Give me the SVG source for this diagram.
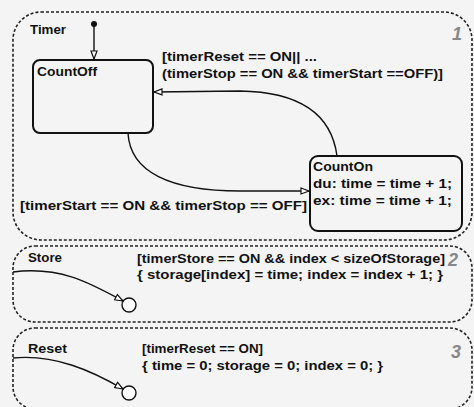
<svg xmlns="http://www.w3.org/2000/svg" width="474" height="407" viewBox="0 0 474 407">
<style>
.region{fill:none;stroke:#222;stroke-width:1.6;stroke-dasharray:3 2}
.state{fill:none;stroke:#111;stroke-width:2}
.t{font-family:"Liberation Sans",Arial,sans-serif;font-weight:bold;font-size:13px;fill:#111}
.num{font-family:"Liberation Sans",Arial,sans-serif;font-weight:bold;font-style:italic;font-size:18px;fill:#888}
.conn{fill:none;stroke:#111;stroke-width:1.4}
.junc{fill:#fff;stroke:#111;stroke-width:1.4}
</style>
<defs>
<marker id="arr" viewBox="0 0 10 8" refX="9" refY="4" markerWidth="10" markerHeight="8" markerUnits="userSpaceOnUse" orient="auto">
<path d="M1,1 L9,4 L1,7 z" fill="#fff" stroke="#111" stroke-width="1.2"/>
</marker>
</defs>
<rect width="474" height="407" fill="#f4f4f4"/>
<g id="Timer">
<rect class="region" x="13" y="12" width="459" height="228" rx="28"/>
<text class="t" x="30" y="34" textLength="36" lengthAdjust="spacingAndGlyphs">Timer</text>
<text class="num" x="452" y="40">1</text>
</g>
<g id="CountOff">
<rect class="state" x="33" y="60" width="120" height="73" rx="7"/>
<text class="t" x="37" y="76" textLength="60" lengthAdjust="spacingAndGlyphs">CountOff</text>
</g>
<g id="CountOn">
<rect class="state" x="310" y="156" width="152" height="75" rx="8"/>
<text class="t" x="313" y="171" textLength="60" lengthAdjust="spacingAndGlyphs">CountOn</text>
<text class="t" x="313" y="188" textLength="139" lengthAdjust="spacingAndGlyphs">du: time = time + 1;</text>
<text class="t" x="313" y="205" textLength="139" lengthAdjust="spacingAndGlyphs">ex: time = time + 1;</text>
</g>
<g id="Store">
<rect class="region" x="13" y="246" width="459" height="76" rx="22"/>
<text class="t" x="28" y="262" textLength="34" lengthAdjust="spacingAndGlyphs">Store</text>
<text class="num" x="448" y="266" font-style="normal">2</text>
<circle id="StoreJunction" class="junc" cx="129" cy="305" r="7"/>
</g>
<g id="Reset">
<rect class="region" x="13" y="328" width="459" height="81" rx="22"/>
<text class="t" x="28" y="353" textLength="39" lengthAdjust="spacingAndGlyphs">Reset</text>
<text class="num" x="451" y="358">3</text>
<circle id="ResetJunction" class="junc" cx="129" cy="393" r="7"/>
</g>
<g id="connectors">
<circle cx="94" cy="24" r="3" fill="#111"/>
<path class="conn" d="M94,24 L94,59" marker-end="url(#arr)"/>
<path class="conn" d="M337,156 C332,118 305,92 240,91 L154,92" marker-end="url(#arr)"/>
<path class="conn" d="M128,133 C130,172 170,191 240,191 L309,191" marker-end="url(#arr)"/>
<path class="conn" d="M13,272 C60,266 90,283 123,301" marker-end="url(#arr)"/>
<path class="conn" d="M13,358 C55,354 92,371 123,389" marker-end="url(#arr)"/>
<text class="t" x="162" y="61" textLength="155" lengthAdjust="spacingAndGlyphs">[timerReset == ON|| ...</text>
<text class="t" x="162" y="78" textLength="281" lengthAdjust="spacingAndGlyphs">(timerStop == ON &amp;&amp; timerStart ==OFF)]</text>
<text class="t" x="20" y="210" textLength="287" lengthAdjust="spacingAndGlyphs">[timerStart == ON &amp;&amp; timerStop == OFF]</text>
<text class="t" x="137" y="263" textLength="308" lengthAdjust="spacingAndGlyphs">[timerStore == ON &amp;&amp; index &lt; sizeOfStorage]</text>
<text class="t" x="137" y="279" textLength="306" lengthAdjust="spacingAndGlyphs">{ storage[index] = time; index = index + 1; }</text>
<text class="t" x="142" y="353" textLength="121" lengthAdjust="spacingAndGlyphs">[timerReset == ON]</text>
<text class="t" x="142" y="370" textLength="241" lengthAdjust="spacingAndGlyphs">{ time = 0; storage = 0; index = 0; }</text>
</g>
</svg>
